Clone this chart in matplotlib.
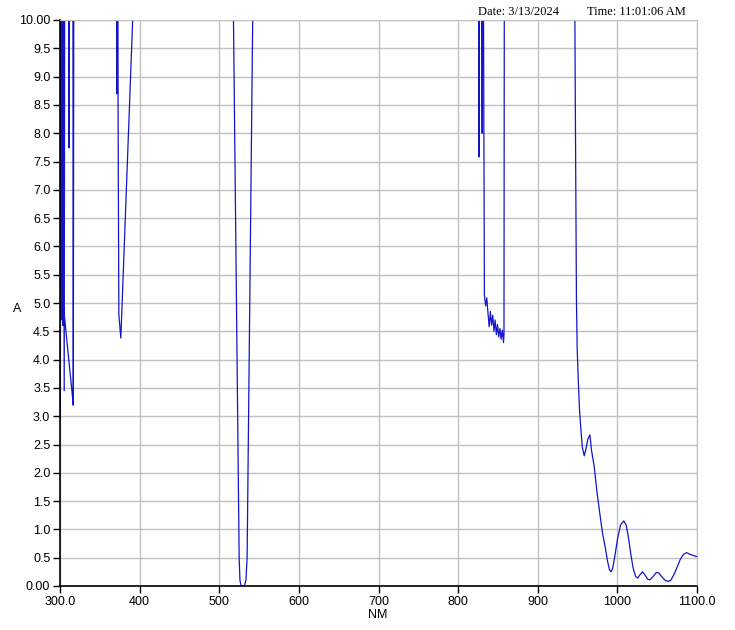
import numpy as np
import matplotlib
matplotlib.use("Agg")
import matplotlib.pyplot as plt

nan = np.nan
# Wavelength (NM) and absorbance (A); values above 10 are off-scale.
seg1_nm = [300.0, 300.6, 301.1, 301.6, 302.2, 302.8, 303.5, 304.2, 305.3, 305.9, 310.9, 311.4, 311.9, 316.2, 316.7, 317.3,
           nan, 301.1, 316.7]
seg1_a = [2.95, 10.5, 5.4, 10.5, 4.7, 10.5, 4.6, 10.5, 3.45, 10.5, 10.5, 7.74, 10.5, 10.5, 3.2, 10.5,
          nan, 5.4, 3.2]
seg2_nm = [371.2, 371.5, 371.8, 372.1, 372.4, 373.9, 376.4, 392.6]
seg2_a = [10.5, 8.7, 10.5, 8.7, 10.5, 4.8, 4.38, 10.5]
seg3_nm = [517.5, 525.0, 526.0, 527.5, 531.5, 533.5, 535.0, 542.0, 542.5]
seg3_a = [10.5, 0.5, 0.1, 0.0, 0.0, 0.1, 0.5, 10.0, 10.5]
seg4_nm = [825.8, 826.3, 826.8, 829.5, 830.2, 830.8, 831.8, 833.0, 834.5, 836.0, 837.5, 839.0, 840.5,
           842.0, 843.5, 845.0, 846.5, 848.0, 849.5, 851.0, 852.5, 854.0, 855.5, 857.0, 857.6, 858.0]
seg4_a = [10.5, 7.58, 10.5, 10.5, 8.0, 10.5, 10.5, 5.14, 4.95, 5.09, 4.82, 4.58, 4.85,
          4.61, 4.78, 4.50, 4.70, 4.44, 4.62, 4.40, 4.55, 4.36, 4.52, 4.30, 4.45, 10.5]
seg5_nm = [946.5, 947.0, 947.8, 948.6, 949.5, 951.0, 952.5, 954.2, 956.0, 958.4, 960.5, 963.0, 965.5,
           967.5, 970.9, 974.5, 978.5, 981.5, 984.7, 987.5, 990.0, 992.0, 994.0, 996.5, 1000.3, 1004.0,
           1008.0, 1011.0, 1014.0, 1017.0, 1020.0, 1023.0, 1025.5, 1028.5, 1031.5, 1034.5, 1038.0, 1041.0,
           1045.0, 1049.0, 1052.0, 1056.0, 1060.0, 1064.0, 1067.0, 1071.0, 1075.0, 1079.0, 1083.0, 1087.0,
           1091.0, 1095.0, 1100.0]
seg5_a = [10.5, 9.0, 7.0, 5.05, 4.2, 3.6, 3.1, 2.76, 2.45, 2.30, 2.42, 2.6, 2.67,
          2.4, 2.11, 1.65, 1.22, 0.92, 0.69, 0.45, 0.29, 0.25, 0.31, 0.5, 0.84, 1.08,
          1.15, 1.08, 0.85, 0.55, 0.3, 0.17, 0.14, 0.2, 0.25, 0.2, 0.12, 0.11,
          0.17, 0.24, 0.23, 0.16, 0.1, 0.08, 0.1, 0.2, 0.33, 0.47, 0.56, 0.59,
          0.56, 0.54, 0.52]

x_ticks = [300, 400, 500, 600, 700, 800, 900, 1000, 1100]
x_labels = ["300.0", "400", "500", "600", "700", "800", "900", "1000", "1100.0"]
y_ticks = [i * 0.5 for i in range(21)]
y_labels = ["0.00"] + ["%.1f" % v for v in y_ticks[1:-1]] + ["10.00"]

nm = seg1_nm + [nan] + seg2_nm + [nan] + seg3_nm + [nan] + seg4_nm + [nan] + seg5_nm
ab = seg1_a + [nan] + seg2_a + [nan] + seg3_a + [nan] + seg4_a + [nan] + seg5_a

plt.rcParams['font.family'] = ['Liberation Sans', 'DejaVu Sans']
fig = plt.figure(figsize=(7.35, 6.3), dpi=100)
ax = fig.add_axes([60 / 735, 1 - 586 / 630, 637 / 735, 566 / 630])
ax.plot(nm, ab, color='#1414c8', linewidth=0.9)
ax.set_xlim(300, 1100)
ax.set_ylim(0, 10)
ax.set_xticks(x_ticks)
ax.set_xticklabels(x_labels, fontsize=9)
ax.set_yticks(y_ticks)
ax.set_yticklabels(y_labels, fontsize=9)
ax.grid(True, color='#c0c0c0', linewidth=1)
ax.set_axisbelow(True)
ax.tick_params(direction='out', length=5, width=1, color='black', pad=2)
for s in ['top', 'right']:
    ax.spines[s].set_color('#c0c0c0')
for s in ['left', 'bottom']:
    ax.spines[s].set_color('black')
    ax.spines[s].set_linewidth(1.2)

fig.text(17 / 735, 1 - 309 / 630, "A", fontsize=9, ha='center', va='center')
fig.text(378 / 735, 1 - 615 / 630, "NM", fontsize=9, ha='center', va='center')
fig.text(478 / 735, 1 - 12 / 630, "Date: 3/13/2024", fontsize=9, ha='left', va='center',
         family=['Liberation Serif', 'DejaVu Serif'])
fig.text(587 / 735, 1 - 12 / 630, "Time: 11:01:06 AM", fontsize=9, ha='left', va='center',
         family=['Liberation Serif', 'DejaVu Serif'])

fig.savefig("out.png", dpi=100)
